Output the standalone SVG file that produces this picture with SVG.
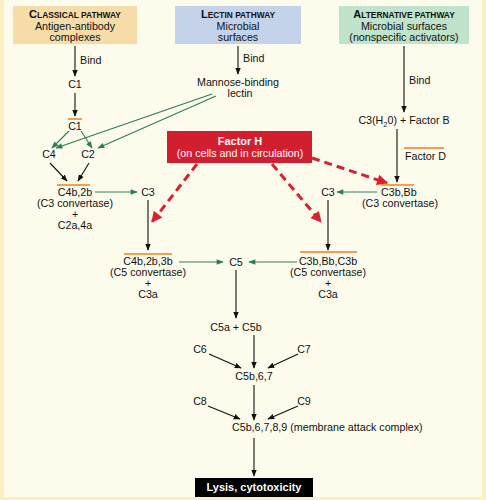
<svg xmlns="http://www.w3.org/2000/svg" width="486" height="500" viewBox="0 0 486 500">
<defs>
<style>
text{font-family:"Liberation Sans",Arial,sans-serif;font-size:10.7px;fill:#111;text-anchor:middle}
.hd{font-weight:bold;font-size:11px}
.sc{font-size:8.4px}
.k{stroke:#111;stroke-width:1.1;fill:none}
.g{stroke:#2e7d4f;stroke-width:1.1;fill:none}
.r{stroke:#d8202e;stroke-width:3;fill:none;stroke-dasharray:8,5}
.o{stroke:#f0a050;stroke-width:2;fill:none}
</style>
<marker id="ak" viewBox="0 0 10 10" refX="9" refY="5" markerWidth="7" markerHeight="7" orient="auto" markerUnits="userSpaceOnUse"><path d="M0,1 L10,5 L0,9 Z" fill="#111"/></marker>
<marker id="ag" viewBox="0 0 10 10" refX="9" refY="5" markerWidth="8" markerHeight="7" orient="auto" markerUnits="userSpaceOnUse"><path d="M0,1 L10,5 L0,9 Z" fill="#2e7d4f"/></marker>
<marker id="ar" viewBox="0 0 10 10" refX="9" refY="5" markerWidth="12" markerHeight="11" orient="auto" markerUnits="userSpaceOnUse"><path d="M0,0 L10,5 L0,10 Z" fill="#d8202e"/></marker>
</defs>
<rect x="0" y="0" width="486" height="500" fill="#fbf0c0"/>
<rect x="4" y="0" width="478" height="497" fill="#fdfcec"/>

<g id="connectors">
<line class="k" x1="75" y1="46" x2="75" y2="76" marker-end="url(#ak)"/>
<line class="k" x1="75" y1="93" x2="75" y2="116" marker-end="url(#ak)"/>
<line class="g" x1="69" y1="131" x2="52" y2="148" marker-end="url(#ag)"/>
<line class="g" x1="81" y1="131" x2="92" y2="148" marker-end="url(#ag)"/>
<line class="g" x1="212" y1="94" x2="56" y2="148" marker-end="url(#ag)"/>
<line class="g" x1="216" y1="96" x2="98" y2="148" marker-end="url(#ag)"/>
<line class="k" x1="50" y1="163" x2="67" y2="181" marker-end="url(#ak)"/>
<line class="k" x1="89" y1="163" x2="78" y2="181" marker-end="url(#ak)"/>
<line class="g" x1="95" y1="192" x2="137" y2="192" marker-end="url(#ag)"/>
<line class="k" x1="148" y1="200" x2="148" y2="250" marker-end="url(#ak)"/>
<line class="g" x1="179" y1="262" x2="223" y2="262" marker-end="url(#ag)"/>
<line class="g" x1="297" y1="262" x2="249" y2="262" marker-end="url(#ag)"/>
<line class="k" x1="238" y1="46" x2="238" y2="74" marker-end="url(#ak)"/>
<line class="k" x1="404" y1="46" x2="404" y2="112" marker-end="url(#ak)"/>
<line class="k" x1="397" y1="129" x2="397" y2="182" marker-end="url(#ak)"/>
<line class="g" x1="377" y1="192" x2="337" y2="192" marker-end="url(#ag)"/>
<line class="k" x1="328" y1="200" x2="328" y2="250" marker-end="url(#ak)"/>
<line class="k" x1="236" y1="270" x2="236" y2="318" marker-end="url(#ak)"/>
<line class="k" x1="254" y1="335" x2="254" y2="368" marker-end="url(#ak)"/>
<line class="k" x1="209" y1="354" x2="241" y2="368" marker-end="url(#ak)"/>
<line class="k" x1="298" y1="354" x2="268" y2="368" marker-end="url(#ak)"/>
<line class="k" x1="254" y1="385" x2="254" y2="420" marker-end="url(#ak)"/>
<line class="k" x1="208" y1="406" x2="240" y2="419" marker-end="url(#ak)"/>
<line class="k" x1="298" y1="406" x2="268" y2="419" marker-end="url(#ak)"/>
<line class="k" x1="254" y1="438" x2="254" y2="476" marker-end="url(#ak)"/>
<line class="r" x1="197" y1="164" x2="152" y2="222" marker-end="url(#ar)"/>
<line class="r" x1="272" y1="164" x2="321" y2="222" marker-end="url(#ar)"/>
<line class="r" x1="312" y1="158" x2="387" y2="183" marker-end="url(#ar)"/>
</g>

<g id="classical">
<rect x="13" y="6" width="124" height="38" fill="#f5dca8"/>
<text x="75" y="18" class="hd">C<tspan class="sc">LASSICAL PATHWAY</tspan></text>
<text x="75" y="30">Antigen-antibody</text>
<text x="75" y="41">complexes</text>
</g>
<g id="lectin">
<rect x="175" y="6" width="126" height="38" fill="#c5d3ea"/>
<text x="238" y="18" class="hd">L<tspan class="sc">ECTIN PATHWAY</tspan></text>
<text x="238" y="30">Microbial</text>
<text x="238" y="41">surfaces</text>
</g>
<g id="alternative">
<rect x="339" y="6" width="130" height="38" fill="#bfe3cb"/>
<text x="404" y="18" class="hd">A<tspan class="sc">LTERNATIVE PATHWAY</tspan></text>
<text x="404" y="30">Microbial surfaces</text>
<text x="404" y="41">(nonspecific activators)</text>
</g>

<g id="bind-labels">
<text x="80" y="64" style="text-anchor:start">Bind</text>
<text x="243" y="62" style="text-anchor:start">Bind</text>
<text x="409" y="84" style="text-anchor:start">Bind</text>
</g>

<g id="c1"><text x="75" y="88">C1</text></g>
<g id="c1bar"><line class="o" x1="68" y1="119" x2="82" y2="119"/><text x="75" y="130">C1</text></g>
<g id="mbl"><text x="238" y="86">Mannose-binding</text><text x="240" y="97">lectin</text></g>
<g id="c4"><text x="49" y="158">C4</text></g>
<g id="c2"><text x="88" y="158">C2</text></g>
<g id="c4b2b">
<line class="o" x1="57" y1="185" x2="90" y2="185"/>
<text x="75" y="196">C4b,2b</text>
<text x="75" y="207">(C3 convertase)</text>
<text x="75" y="218">+</text>
<text x="75" y="229">C2a,4a</text>
</g>
<g id="c3-left"><text x="148" y="196">C3</text></g>
<g id="c4b2b3b">
<line class="o" x1="124" y1="254" x2="172" y2="254"/>
<text x="148" y="265">C4b,2b,3b</text>
<text x="148" y="276">(C5 convertase)</text>
<text x="148" y="287">+</text>
<text x="148" y="298">C3a</text>
</g>
<g id="c5"><text x="236" y="266">C5</text></g>
<g id="c3bbbc3b">
<line class="o" x1="300" y1="252" x2="357" y2="252"/>
<text x="328" y="265">C3b,Bb,C3b</text>
<text x="328" y="276">(C5 convertase)</text>
<text x="328" y="287">+</text>
<text x="328" y="298">C3a</text>
</g>
<g id="c3h2o"><text x="404" y="124">C3(H<tspan font-size="7.5" dy="2.5">2</tspan><tspan dy="-2.5">0) + Factor B</tspan></text></g>
<g id="factord"><line class="o" x1="404" y1="148" x2="444" y2="148"/><text x="405" y="160" style="text-anchor:start">Factor D</text></g>
<g id="c3bbb">
<line class="o" x1="380" y1="185" x2="414" y2="185"/>
<text x="381" y="196" style="text-anchor:start">C3b,Bb</text>
<text x="400" y="207">(C3 convertase)</text>
</g>
<g id="c3-right"><text x="328" y="196">C3</text></g>
<g id="factorh">
<rect x="167" y="131" width="145" height="32" fill="#d21f2f"/>
<text x="240" y="145" class="hd" style="fill:#fff">Factor H</text>
<text x="240" y="157" style="fill:#fff">(on cells and in circulation)</text>
</g>
<g id="c5ab"><text x="236" y="331">C5a + C5b</text></g>
<g id="c6"><text x="200" y="353">C6</text></g>
<g id="c7"><text x="304" y="353">C7</text></g>
<g id="c567"><text x="254" y="380">C5b,6,7</text></g>
<g id="c8"><text x="200" y="405">C8</text></g>
<g id="c9"><text x="304" y="405">C9</text></g>
<g id="mac"><text x="232" y="431" style="text-anchor:start">C5b,6,7,8,9 (membrane attack complex)</text></g>
<g id="lysis">
<rect x="195" y="478" width="118" height="19" fill="#000"/>
<text x="254" y="491" class="hd" style="fill:#fff">Lysis, cytotoxicity</text>
</g>
</svg>
